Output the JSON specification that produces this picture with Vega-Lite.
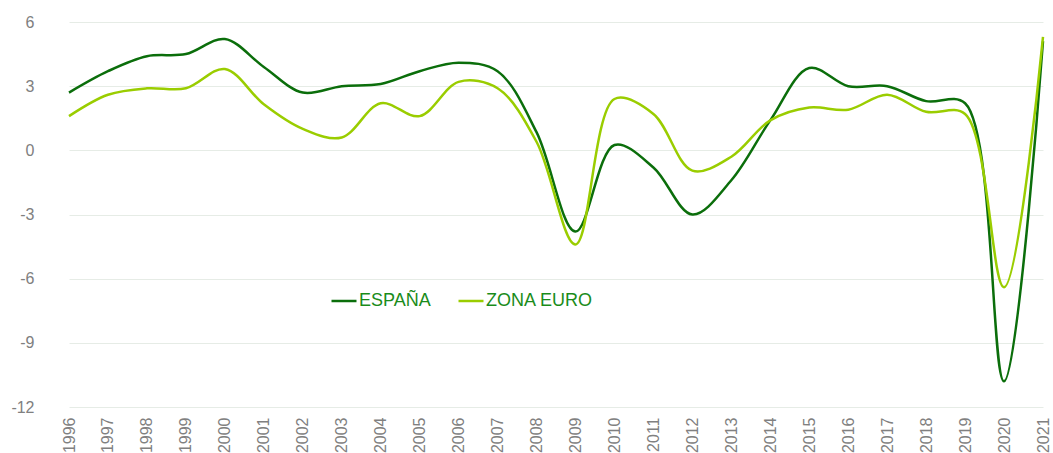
{
  "$schema": "https://vega.github.io/schema/vega-lite/v6.json",
  "autosize": "none",
  "width": 1003,
  "height": 385,
  "padding": {"left": 50, "top": 22, "right": 0, "bottom": 46},
  "background": "white",
  "config": {
    "view": {"stroke": null},
    "font": "Liberation Sans"
  },
  "data": {
    "values": [
      {"year": "1996", "ESPAÑA": 2.7, "ZONA EURO": 1.6},
      {"year": "1997", "ESPAÑA": 3.7, "ZONA EURO": 2.6},
      {"year": "1998", "ESPAÑA": 4.4, "ZONA EURO": 2.9},
      {"year": "1999", "ESPAÑA": 4.5, "ZONA EURO": 2.9},
      {"year": "2000", "ESPAÑA": 5.2, "ZONA EURO": 3.8},
      {"year": "2001", "ESPAÑA": 3.9, "ZONA EURO": 2.15},
      {"year": "2002", "ESPAÑA": 2.7, "ZONA EURO": 1.0},
      {"year": "2003", "ESPAÑA": 3.0, "ZONA EURO": 0.6},
      {"year": "2004", "ESPAÑA": 3.1, "ZONA EURO": 2.2},
      {"year": "2005", "ESPAÑA": 3.7, "ZONA EURO": 1.6},
      {"year": "2006", "ESPAÑA": 4.1, "ZONA EURO": 3.2},
      {"year": "2007", "ESPAÑA": 3.7, "ZONA EURO": 2.9},
      {"year": "2008", "ESPAÑA": 0.85, "ZONA EURO": 0.4},
      {"year": "2009", "ESPAÑA": -3.8, "ZONA EURO": -4.4},
      {"year": "2010", "ESPAÑA": 0.25, "ZONA EURO": 2.4},
      {"year": "2011", "ESPAÑA": -0.8, "ZONA EURO": 1.7},
      {"year": "2012", "ESPAÑA": -3.0, "ZONA EURO": -0.95},
      {"year": "2013", "ESPAÑA": -1.4, "ZONA EURO": -0.3},
      {"year": "2014", "ESPAÑA": 1.4, "ZONA EURO": 1.4},
      {"year": "2015", "ESPAÑA": 3.85, "ZONA EURO": 2.0},
      {"year": "2016", "ESPAÑA": 3.0, "ZONA EURO": 1.9},
      {"year": "2017", "ESPAÑA": 3.0, "ZONA EURO": 2.6},
      {"year": "2018", "ESPAÑA": 2.3, "ZONA EURO": 1.8},
      {"year": "2019", "ESPAÑA": 2.2, "ZONA EURO": 1.7},
      {"year": "2020", "ESPAÑA": -10.8, "ZONA EURO": -6.4},
      {"year": "2021", "ESPAÑA": 5.1, "ZONA EURO": 5.3}
    ]
  },
  "transform": [
    {"fold": ["ESPAÑA", "ZONA EURO"], "as": ["serie", "value"]}
  ],
  "mark": {"type": "line", "interpolate": "catmull-rom", "strokeWidth": 2.5},
  "encoding": {
    "x": {
      "field": "year",
      "type": "ordinal",
      "scale": {"type": "point", "range": [19, 993], "padding": 0},
      "axis": {
        "title": null,
        "labelAngle": -90,
        "labelColor": "#808080",
        "labelFontSize": 16,
        "labelPadding": 10,
        "ticks": false,
        "domain": false,
        "grid": false
      }
    },
    "y": {
      "field": "value",
      "type": "quantitative",
      "scale": {"domain": [-12, 6], "nice": false, "zero": false},
      "axis": {
        "title": null,
        "values": [-12, -9, -6, -3, 0, 3, 6],
        "labelExpr": "toString(datum.value)",
        "labelColor": "#808080",
        "labelFontSize": 16,
        "labelPadding": 16,
        "ticks": false,
        "domain": false,
        "grid": true,
        "gridColor": "#e6ece6",
        "gridWidth": 1
      }
    },
    "color": {
      "field": "serie",
      "type": "nominal",
      "scale": {"domain": ["ESPAÑA", "ZONA EURO"], "range": ["#0b6e0b", "#9acd00"]},
      "legend": {
        "title": null,
        "orient": "none",
        "legendX": 280,
        "legendY": 265,
        "direction": "horizontal",
        "symbolType": "stroke",
        "symbolSize": 625,
        "symbolStrokeWidth": 2.5,
        "labelColor": "#1a8c1a",
        "labelFontSize": 18,
        "labelOffset": 1,
        "columnPadding": 22
      }
    }
  }
}
